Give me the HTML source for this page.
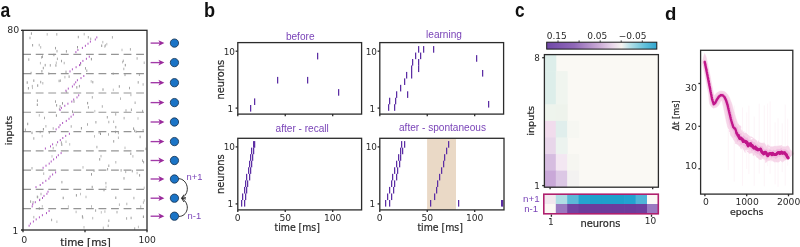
<!DOCTYPE html>
<html><head><meta charset="utf-8"><title>figure</title>
<style>html,body{margin:0;padding:0;background:#fff;} body{width:800px;height:247px;overflow:hidden;} svg{display:block;}</style>
</head><body>
<svg width="800" height="247" viewBox="0 0 800 247">
<rect width="800" height="247" fill="#ffffff"/>
<text x="0.60" y="17.10" font-size="19.5" font-family="'Liberation Sans', sans-serif" fill="#111" text-anchor="start" font-weight="bold" textLength="9.7" lengthAdjust="spacingAndGlyphs">a</text>
<text x="203.90" y="17.20" font-size="20" font-family="'Liberation Sans', sans-serif" fill="#111" text-anchor="start" font-weight="bold" textLength="11.1" lengthAdjust="spacingAndGlyphs">b</text>
<text x="515.10" y="17.20" font-size="20" font-family="'Liberation Sans', sans-serif" fill="#111" text-anchor="start" font-weight="bold" textLength="9.6" lengthAdjust="spacingAndGlyphs">c</text>
<text x="665.00" y="19.70" font-size="18.6" font-family="'Liberation Sans', sans-serif" fill="#111" text-anchor="start" font-weight="bold">d</text>
<rect x="63.7" y="61.8" width="1" height="2.5" fill="rgb(179,179,179)"/>
<rect x="33.3" y="137.2" width="1" height="2.5" fill="rgb(166,166,166)"/>
<rect x="31.5" y="131.6" width="1" height="2.5" fill="rgb(151,151,151)"/>
<rect x="77.0" y="46.0" width="1" height="2.5" fill="rgb(154,154,154)"/>
<rect x="75.9" y="194.1" width="1" height="2.5" fill="rgb(155,155,155)"/>
<rect x="51.5" y="155.1" width="1" height="2.5" fill="rgb(192,192,192)"/>
<rect x="94.3" y="109.9" width="1" height="2.5" fill="rgb(193,193,193)"/>
<rect x="30.1" y="200.3" width="1" height="2.5" fill="rgb(163,163,163)"/>
<rect x="42.0" y="55.4" width="1" height="2.5" fill="rgb(163,163,163)"/>
<rect x="123.3" y="67.7" width="1" height="2.5" fill="rgb(176,176,176)"/>
<rect x="101.8" y="105.2" width="1" height="2.5" fill="rgb(174,174,174)"/>
<rect x="32.1" y="44.0" width="1" height="2.5" fill="rgb(159,159,159)"/>
<rect x="106.8" y="116.0" width="1" height="2.5" fill="rgb(164,164,164)"/>
<rect x="95.4" y="121.0" width="1" height="2.5" fill="rgb(163,163,163)"/>
<rect x="120.6" y="169.1" width="1" height="2.5" fill="rgb(160,160,160)"/>
<rect x="94.0" y="135.1" width="1" height="2.5" fill="rgb(189,189,189)"/>
<rect x="112.8" y="88.6" width="1" height="2.5" fill="rgb(194,194,194)"/>
<rect x="38.8" y="114.1" width="1" height="2.5" fill="rgb(184,184,184)"/>
<rect x="42.9" y="128.0" width="1" height="2.5" fill="rgb(151,151,151)"/>
<rect x="105.4" y="181.9" width="1" height="2.5" fill="rgb(175,175,175)"/>
<rect x="130.4" y="93.7" width="1" height="2.5" fill="rgb(181,181,181)"/>
<rect x="96.4" y="145.8" width="1" height="2.5" fill="rgb(170,170,170)"/>
<rect x="126.1" y="217.2" width="1" height="2.5" fill="rgb(171,171,171)"/>
<rect x="104.9" y="44.2" width="1" height="2.5" fill="rgb(181,181,181)"/>
<rect x="102.8" y="226.6" width="1" height="2.5" fill="rgb(186,186,186)"/>
<rect x="58.9" y="107.8" width="1" height="2.5" fill="rgb(180,180,180)"/>
<rect x="27.2" y="122.7" width="1" height="2.5" fill="rgb(157,157,157)"/>
<rect x="38.7" y="43.8" width="1" height="2.5" fill="rgb(184,184,184)"/>
<rect x="40.2" y="80.8" width="1" height="2.5" fill="rgb(167,167,167)"/>
<rect x="129.9" y="48.1" width="1" height="2.5" fill="rgb(170,170,170)"/>
<rect x="91.0" y="205.2" width="1" height="2.5" fill="rgb(186,186,186)"/>
<rect x="129.0" y="86.8" width="1" height="2.5" fill="rgb(168,168,168)"/>
<rect x="67.9" y="205.3" width="1" height="2.5" fill="rgb(193,193,193)"/>
<rect x="42.8" y="66.8" width="1" height="2.5" fill="rgb(160,160,160)"/>
<rect x="52.7" y="127.2" width="1" height="2.5" fill="rgb(176,176,176)"/>
<rect x="56.3" y="33.1" width="1" height="2.5" fill="rgb(168,168,168)"/>
<rect x="69.2" y="143.1" width="1" height="2.5" fill="rgb(192,192,192)"/>
<rect x="108.0" y="133.2" width="1" height="2.5" fill="rgb(177,177,177)"/>
<rect x="106.3" y="42.9" width="1" height="2.5" fill="rgb(190,190,190)"/>
<rect x="118.9" y="203.4" width="1" height="2.5" fill="rgb(185,185,185)"/>
<rect x="72.0" y="110.4" width="1" height="2.5" fill="rgb(154,154,154)"/>
<rect x="101.2" y="44.5" width="1" height="2.5" fill="rgb(153,153,153)"/>
<rect x="49.8" y="64.1" width="1" height="2.5" fill="rgb(165,165,165)"/>
<rect x="30.9" y="32.3" width="1" height="2.5" fill="rgb(156,156,156)"/>
<rect x="36.8" y="103.5" width="1" height="2.5" fill="rgb(151,151,151)"/>
<rect x="130.3" y="152.5" width="1" height="2.5" fill="rgb(156,156,156)"/>
<rect x="55.0" y="100.3" width="1" height="2.5" fill="rgb(166,166,166)"/>
<rect x="39.4" y="198.4" width="1" height="2.5" fill="rgb(194,194,194)"/>
<rect x="80.9" y="127.0" width="1" height="2.5" fill="rgb(153,153,153)"/>
<rect x="36.9" y="99.4" width="1" height="2.5" fill="rgb(161,161,161)"/>
<rect x="124.8" y="63.9" width="1" height="2.5" fill="rgb(151,151,151)"/>
<rect x="139.6" y="135.7" width="1" height="2.5" fill="rgb(156,156,156)"/>
<rect x="90.2" y="37.6" width="1" height="2.5" fill="rgb(173,173,173)"/>
<rect x="142.9" y="201.3" width="1" height="2.5" fill="rgb(181,181,181)"/>
<rect x="56.1" y="104.1" width="1" height="2.5" fill="rgb(157,157,157)"/>
<rect x="117.9" y="136.5" width="1" height="2.5" fill="rgb(185,185,185)"/>
<rect x="64.4" y="75.9" width="1" height="2.5" fill="rgb(186,186,186)"/>
<rect x="143.7" y="199.2" width="1" height="2.5" fill="rgb(186,186,186)"/>
<rect x="123.5" y="177.1" width="1" height="2.5" fill="rgb(160,160,160)"/>
<rect x="87.1" y="101.9" width="1" height="2.5" fill="rgb(151,151,151)"/>
<rect x="27.9" y="87.0" width="1" height="2.5" fill="rgb(161,161,161)"/>
<rect x="108.3" y="219.5" width="1" height="2.5" fill="rgb(170,170,170)"/>
<rect x="137.9" y="225.7" width="1" height="2.5" fill="rgb(192,192,192)"/>
<rect x="68.6" y="75.4" width="1" height="2.5" fill="rgb(160,160,160)"/>
<rect x="48.3" y="72.3" width="1" height="2.5" fill="rgb(178,178,178)"/>
<rect x="133.4" y="196.8" width="1" height="2.5" fill="rgb(171,171,171)"/>
<rect x="103.5" y="188.8" width="1" height="2.5" fill="rgb(153,153,153)"/>
<rect x="104.4" y="210.3" width="1" height="2.5" fill="rgb(185,185,185)"/>
<rect x="115.3" y="125.9" width="1" height="2.5" fill="rgb(158,158,158)"/>
<rect x="120.0" y="97.4" width="1" height="2.5" fill="rgb(186,186,186)"/>
<rect x="142.1" y="109.8" width="1" height="2.5" fill="rgb(168,168,168)"/>
<rect x="139.1" y="174.1" width="1" height="2.5" fill="rgb(157,157,157)"/>
<rect x="39.9" y="61.9" width="1" height="2.5" fill="rgb(190,190,190)"/>
<rect x="122.1" y="60.9" width="1" height="2.5" fill="rgb(187,187,187)"/>
<rect x="143.1" y="160.9" width="1" height="2.5" fill="rgb(165,165,165)"/>
<rect x="90.9" y="57.9" width="1" height="2.5" fill="rgb(150,150,150)"/>
<rect x="142.0" y="159.4" width="1" height="2.5" fill="rgb(173,173,173)"/>
<rect x="137.5" y="117.2" width="1" height="2.5" fill="rgb(189,189,189)"/>
<rect x="124.5" y="73.6" width="1" height="2.5" fill="rgb(161,161,161)"/>
<rect x="59.9" y="79.4" width="1" height="2.5" fill="rgb(176,176,176)"/>
<rect x="55.9" y="114.3" width="1" height="2.5" fill="rgb(155,155,155)"/>
<rect x="134.6" y="101.5" width="1" height="2.5" fill="rgb(170,170,170)"/>
<rect x="95.1" y="209.3" width="1" height="2.5" fill="rgb(168,168,168)"/>
<rect x="135.5" y="130.5" width="1" height="2.5" fill="rgb(173,173,173)"/>
<rect x="87.8" y="36.0" width="1" height="2.5" fill="rgb(169,169,169)"/>
<rect x="46.7" y="33.1" width="1" height="2.5" fill="rgb(185,185,185)"/>
<rect x="45.4" y="125.0" width="1" height="2.5" fill="rgb(182,182,182)"/>
<rect x="91.8" y="96.1" width="1" height="2.5" fill="rgb(173,173,173)"/>
<rect x="91.7" y="185.8" width="1" height="2.5" fill="rgb(154,154,154)"/>
<rect x="92.3" y="80.9" width="1" height="2.5" fill="rgb(162,162,162)"/>
<rect x="117.9" y="131.7" width="1" height="2.5" fill="rgb(175,175,175)"/>
<rect x="116.5" y="210.9" width="1" height="2.5" fill="rgb(169,169,169)"/>
<rect x="98.6" y="131.2" width="1" height="2.5" fill="rgb(173,173,173)"/>
<rect x="108.3" y="120.8" width="1" height="2.5" fill="rgb(173,173,173)"/>
<rect x="82.3" y="216.6" width="1" height="2.5" fill="rgb(181,181,181)"/>
<rect x="130.6" y="216.7" width="1" height="2.5" fill="rgb(161,161,161)"/>
<rect x="92.2" y="216.9" width="1" height="2.5" fill="rgb(187,187,187)"/>
<rect x="41.1" y="56.1" width="1" height="2.5" fill="rgb(169,169,169)"/>
<rect x="33.3" y="79.4" width="1" height="2.5" fill="rgb(153,153,153)"/>
<rect x="105.5" y="185.7" width="1" height="2.5" fill="rgb(190,190,190)"/>
<rect x="43.2" y="172.4" width="1" height="2.5" fill="rgb(179,179,179)"/>
<rect x="41.8" y="205.1" width="1" height="2.5" fill="rgb(193,193,193)"/>
<rect x="51.1" y="218.7" width="1" height="2.5" fill="rgb(167,167,167)"/>
<rect x="83.5" y="226.0" width="1" height="2.5" fill="rgb(187,187,187)"/>
<rect x="44.0" y="116.7" width="1" height="2.5" fill="rgb(173,173,173)"/>
<rect x="65.5" y="70.6" width="1" height="2.5" fill="rgb(164,164,164)"/>
<rect x="111.9" y="36.1" width="1" height="2.5" fill="rgb(174,174,174)"/>
<rect x="77.8" y="35.8" width="1" height="2.5" fill="rgb(164,164,164)"/>
<rect x="100.0" y="132.5" width="1" height="2.5" fill="rgb(152,152,152)"/>
<rect x="143.7" y="186.6" width="1" height="2.5" fill="rgb(193,193,193)"/>
<rect x="37.2" y="84.3" width="1" height="2.5" fill="rgb(151,151,151)"/>
<rect x="118.8" y="85.2" width="1" height="2.5" fill="rgb(155,155,155)"/>
<rect x="75.6" y="210.7" width="1" height="2.5" fill="rgb(186,186,186)"/>
<rect x="55.8" y="61.5" width="1" height="2.5" fill="rgb(191,191,191)"/>
<rect x="93.5" y="169.4" width="1" height="2.5" fill="rgb(154,154,154)"/>
<rect x="31.5" y="167.0" width="1" height="2.5" fill="rgb(169,169,169)"/>
<rect x="33.3" y="215.9" width="1" height="2.5" fill="rgb(178,178,178)"/>
<rect x="121.5" y="48.7" width="1" height="2.5" fill="rgb(188,188,188)"/>
<rect x="32.6" y="201.1" width="1" height="2.5" fill="rgb(170,170,170)"/>
<rect x="65.5" y="140.5" width="1" height="2.5" fill="rgb(191,191,191)"/>
<rect x="56.9" y="57.6" width="1" height="2.5" fill="rgb(173,173,173)"/>
<rect x="53.4" y="53.7" width="1" height="2.5" fill="rgb(157,157,157)"/>
<rect x="30.6" y="71.8" width="1" height="2.5" fill="rgb(164,164,164)"/>
<rect x="61.4" y="180.9" width="1" height="2.5" fill="rgb(163,163,163)"/>
<rect x="85.0" y="67.1" width="1" height="2.5" fill="rgb(165,165,165)"/>
<rect x="26.7" y="81.3" width="1" height="2.5" fill="rgb(150,150,150)"/>
<rect x="113.2" y="140.1" width="1" height="2.5" fill="rgb(158,158,158)"/>
<rect x="81.9" y="215.2" width="1" height="2.5" fill="rgb(154,154,154)"/>
<rect x="123.6" y="116.9" width="1" height="2.5" fill="rgb(172,172,172)"/>
<rect x="125.5" y="109.2" width="1" height="2.5" fill="rgb(172,172,172)"/>
<rect x="107.7" y="224.6" width="1" height="2.5" fill="rgb(165,165,165)"/>
<rect x="125.2" y="170.6" width="1" height="2.5" fill="rgb(178,178,178)"/>
<rect x="73.5" y="100.3" width="1" height="2.5" fill="rgb(152,152,152)"/>
<rect x="40.2" y="46.1" width="1" height="2.5" fill="rgb(183,183,183)"/>
<rect x="55.4" y="64.2" width="1" height="2.5" fill="rgb(153,153,153)"/>
<rect x="126.3" y="202.7" width="1" height="2.5" fill="rgb(180,180,180)"/>
<rect x="58.6" y="79.7" width="1" height="2.5" fill="rgb(163,163,163)"/>
<rect x="80.1" y="63.1" width="1" height="2.5" fill="rgb(170,170,170)"/>
<rect x="56.4" y="220.5" width="1" height="2.5" fill="rgb(193,193,193)"/>
<rect x="90.7" y="80.1" width="1" height="2.5" fill="rgb(193,193,193)"/>
<rect x="62.0" y="102.1" width="1" height="2.5" fill="rgb(150,150,150)"/>
<rect x="70.7" y="125.2" width="1" height="2.5" fill="rgb(172,172,172)"/>
<rect x="48.8" y="131.1" width="1" height="2.5" fill="rgb(150,150,150)"/>
<rect x="56.5" y="49.9" width="1" height="2.5" fill="rgb(167,167,167)"/>
<rect x="29.5" y="36.7" width="1" height="2.5" fill="rgb(163,163,163)"/>
<rect x="52.7" y="146.9" width="1" height="2.5" fill="rgb(173,173,173)"/>
<rect x="115.3" y="161.0" width="1" height="2.5" fill="rgb(182,182,182)"/>
<rect x="130.9" y="108.5" width="1" height="2.5" fill="rgb(164,164,164)"/>
<rect x="143.7" y="61.5" width="1" height="2.5" fill="rgb(182,182,182)"/>
<rect x="102.3" y="40.9" width="1" height="2.5" fill="rgb(187,187,187)"/>
<rect x="132.4" y="155.1" width="1" height="2.5" fill="rgb(183,183,183)"/>
<rect x="122.8" y="59.6" width="1" height="2.5" fill="rgb(173,173,173)"/>
<rect x="85.5" y="195.7" width="1" height="2.5" fill="rgb(186,186,186)"/>
<rect x="124.5" y="146.6" width="1" height="2.5" fill="rgb(190,190,190)"/>
<rect x="107.1" y="168.0" width="1" height="2.5" fill="rgb(160,160,160)"/>
<rect x="28.3" y="58.3" width="1" height="2.5" fill="rgb(166,166,166)"/>
<rect x="37.2" y="195.9" width="1" height="2.5" fill="rgb(175,175,175)"/>
<rect x="100.5" y="154.9" width="1" height="2.5" fill="rgb(180,180,180)"/>
<rect x="83.7" y="32.9" width="1" height="2.5" fill="rgb(185,185,185)"/>
<rect x="115.0" y="130.7" width="1" height="2.5" fill="rgb(174,174,174)"/>
<rect x="104.3" y="45.2" width="1" height="2.5" fill="rgb(183,183,183)"/>
<rect x="55.0" y="46.9" width="1" height="2.5" fill="rgb(161,161,161)"/>
<rect x="112.7" y="72.5" width="1" height="2.5" fill="rgb(183,183,183)"/>
<rect x="142.6" y="129.0" width="1" height="2.5" fill="rgb(167,167,167)"/>
<rect x="82.5" y="166.1" width="1" height="2.5" fill="rgb(184,184,184)"/>
<rect x="99.2" y="158.1" width="1" height="2.5" fill="rgb(153,153,153)"/>
<rect x="42.3" y="82.0" width="1" height="2.5" fill="rgb(183,183,183)"/>
<rect x="61.3" y="143.4" width="1" height="2.5" fill="rgb(150,150,150)"/>
<rect x="31.8" y="84.9" width="1" height="2.5" fill="rgb(180,180,180)"/>
<rect x="108.3" y="164.5" width="1" height="2.5" fill="rgb(163,163,163)"/>
<rect x="87.0" y="123.2" width="1" height="2.5" fill="rgb(170,170,170)"/>
<rect x="38.8" y="207.2" width="1" height="2.5" fill="rgb(158,158,158)"/>
<rect x="142.9" y="215.5" width="1" height="2.5" fill="rgb(150,150,150)"/>
<rect x="80.0" y="192.8" width="1" height="2.5" fill="rgb(193,193,193)"/>
<rect x="78.9" y="84.9" width="1" height="2.5" fill="rgb(159,159,159)"/>
<rect x="138.9" y="73.5" width="1" height="2.5" fill="rgb(176,176,176)"/>
<rect x="41.7" y="134.9" width="1" height="2.5" fill="rgb(192,192,192)"/>
<rect x="40.5" y="192.8" width="1" height="2.5" fill="rgb(172,172,172)"/>
<rect x="131.8" y="169.9" width="1" height="2.5" fill="rgb(160,160,160)"/>
<rect x="133.1" y="127.4" width="1" height="2.5" fill="rgb(151,151,151)"/>
<rect x="24.9" y="128.5" width="1" height="2.5" fill="rgb(170,170,170)"/>
<rect x="61.0" y="59.8" width="1" height="2.5" fill="rgb(165,165,165)"/>
<rect x="62.7" y="196.7" width="1" height="2.5" fill="rgb(150,150,150)"/>
<rect x="115.3" y="196.5" width="1" height="2.5" fill="rgb(155,155,155)"/>
<rect x="136.6" y="171.8" width="1" height="2.5" fill="rgb(190,190,190)"/>
<rect x="59.6" y="105.1" width="1" height="2.5" fill="rgb(167,167,167)"/>
<rect x="145.4" y="147.6" width="1" height="2.5" fill="rgb(166,166,166)"/>
<rect x="76.3" y="86.1" width="1" height="2.5" fill="rgb(152,152,152)"/>
<rect x="36.8" y="195.6" width="1" height="2.5" fill="rgb(162,162,162)"/>
<rect x="137.7" y="81.1" width="1" height="2.5" fill="rgb(161,161,161)"/>
<rect x="86.3" y="69.5" width="1" height="2.5" fill="rgb(166,166,166)"/>
<rect x="140.2" y="205.4" width="1" height="2.5" fill="rgb(186,186,186)"/>
<rect x="100.8" y="211.1" width="1" height="2.5" fill="rgb(192,192,192)"/>
<rect x="91.0" y="173.1" width="1" height="2.5" fill="rgb(152,152,152)"/>
<rect x="113.1" y="120.5" width="1" height="2.5" fill="rgb(183,183,183)"/>
<rect x="102.5" y="88.3" width="1" height="2.5" fill="rgb(152,152,152)"/>
<rect x="136.6" y="57.2" width="1" height="2.5" fill="rgb(171,171,171)"/>
<rect x="66.1" y="90.6" width="1" height="2.5" fill="rgb(183,183,183)"/>
<rect x="142.6" y="83.2" width="1" height="2.5" fill="rgb(179,179,179)"/>
<rect x="60.9" y="141.4" width="1" height="2.5" fill="rgb(167,167,167)"/>
<rect x="44.7" y="63.9" width="1" height="2.5" fill="rgb(159,159,159)"/>
<rect x="134.1" y="129.6" width="1" height="2.5" fill="rgb(159,159,159)"/>
<rect x="134.2" y="227.3" width="1" height="2.5" fill="rgb(170,170,170)"/>
<rect x="41.4" y="70.0" width="1" height="2.5" fill="rgb(154,154,154)"/>
<rect x="65.9" y="50.1" width="1" height="2.5" fill="rgb(160,160,160)"/>
<rect x="55.8" y="143.8" width="1" height="2.5" fill="rgb(189,189,189)"/>
<rect x="115.2" y="113.1" width="1" height="2.5" fill="rgb(168,168,168)"/>
<rect x="87.9" y="106.1" width="1" height="2.5" fill="rgb(165,165,165)"/>
<rect x="32.0" y="86.6" width="1" height="2.5" fill="rgb(193,193,193)"/>
<rect x="39.7" y="130.8" width="1" height="2.5" fill="rgb(178,178,178)"/>
<line x1="23.20" y1="54.40" x2="146.40" y2="54.40" stroke="#959595" stroke-width="1.2" stroke-dasharray="7.8 4.75"/>
<line x1="23.20" y1="73.69" x2="146.40" y2="73.69" stroke="#959595" stroke-width="1.2" stroke-dasharray="7.8 4.75"/>
<line x1="23.20" y1="92.98" x2="146.40" y2="92.98" stroke="#959595" stroke-width="1.2" stroke-dasharray="7.8 4.75"/>
<line x1="23.20" y1="112.27" x2="146.40" y2="112.27" stroke="#959595" stroke-width="1.2" stroke-dasharray="7.8 4.75"/>
<line x1="23.20" y1="131.56" x2="146.40" y2="131.56" stroke="#959595" stroke-width="1.2" stroke-dasharray="7.8 4.75"/>
<line x1="23.20" y1="150.85" x2="146.40" y2="150.85" stroke="#959595" stroke-width="1.2" stroke-dasharray="7.8 4.75"/>
<line x1="23.20" y1="170.14" x2="146.40" y2="170.14" stroke="#959595" stroke-width="1.2" stroke-dasharray="7.8 4.75"/>
<line x1="23.20" y1="189.43" x2="146.40" y2="189.43" stroke="#959595" stroke-width="1.2" stroke-dasharray="7.8 4.75"/>
<line x1="23.20" y1="208.72" x2="146.40" y2="208.72" stroke="#959595" stroke-width="1.2" stroke-dasharray="7.8 4.75"/>
<rect x="28.6" y="224.7" width="1.0" height="2.0" fill="#b058c2"/>
<rect x="29.9" y="222.6" width="1.0" height="2.0" fill="#b058c2"/>
<rect x="32.9" y="220.5" width="1.0" height="2.0" fill="#b058c2"/>
<rect x="35.7" y="218.4" width="1.0" height="2.0" fill="#b058c2"/>
<rect x="38.9" y="216.3" width="1.0" height="2.0" fill="#b058c2"/>
<rect x="41.9" y="214.2" width="1.0" height="2.0" fill="#b058c2"/>
<rect x="46.0" y="212.1" width="1.0" height="2.0" fill="#b058c2"/>
<rect x="48.6" y="210.0" width="1.0" height="2.0" fill="#b058c2"/>
<rect x="31.7" y="205.4" width="1.0" height="2.0" fill="#b058c2"/>
<rect x="32.2" y="203.3" width="1.0" height="2.0" fill="#b058c2"/>
<rect x="34.8" y="201.2" width="1.0" height="2.0" fill="#b058c2"/>
<rect x="39.0" y="199.1" width="1.0" height="2.0" fill="#b058c2"/>
<rect x="42.0" y="197.0" width="1.0" height="2.0" fill="#b058c2"/>
<rect x="43.5" y="194.9" width="1.0" height="2.0" fill="#b058c2"/>
<rect x="46.4" y="192.8" width="1.0" height="2.0" fill="#b058c2"/>
<rect x="47.5" y="190.7" width="1.0" height="2.0" fill="#b058c2"/>
<rect x="35.5" y="186.1" width="1.0" height="2.0" fill="#b058c2"/>
<rect x="39.7" y="184.0" width="1.0" height="2.0" fill="#b058c2"/>
<rect x="42.3" y="181.9" width="1.0" height="2.0" fill="#b058c2"/>
<rect x="45.3" y="179.8" width="1.0" height="2.0" fill="#b058c2"/>
<rect x="48.4" y="177.7" width="1.0" height="2.0" fill="#b058c2"/>
<rect x="49.6" y="175.6" width="1.0" height="2.0" fill="#b058c2"/>
<rect x="52.1" y="173.5" width="1.0" height="2.0" fill="#b058c2"/>
<rect x="55.1" y="171.4" width="1.0" height="2.0" fill="#b058c2"/>
<rect x="42.6" y="166.8" width="1.0" height="2.0" fill="#b058c2"/>
<rect x="45.5" y="164.7" width="1.0" height="2.0" fill="#b058c2"/>
<rect x="48.7" y="162.6" width="1.0" height="2.0" fill="#b058c2"/>
<rect x="50.7" y="160.5" width="1.0" height="2.0" fill="#b058c2"/>
<rect x="53.1" y="158.4" width="1.0" height="2.0" fill="#b058c2"/>
<rect x="56.0" y="156.3" width="1.0" height="2.0" fill="#b058c2"/>
<rect x="57.8" y="154.2" width="1.0" height="2.0" fill="#b058c2"/>
<rect x="60.6" y="152.1" width="1.0" height="2.0" fill="#b058c2"/>
<rect x="44.9" y="147.5" width="1.0" height="2.0" fill="#b058c2"/>
<rect x="50.0" y="145.4" width="1.0" height="2.0" fill="#b058c2"/>
<rect x="52.1" y="143.3" width="1.0" height="2.0" fill="#b058c2"/>
<rect x="57.1" y="141.2" width="1.0" height="2.0" fill="#b058c2"/>
<rect x="59.8" y="139.1" width="1.0" height="2.0" fill="#b058c2"/>
<rect x="62.3" y="137.0" width="1.0" height="2.0" fill="#b058c2"/>
<rect x="65.2" y="134.9" width="1.0" height="2.0" fill="#b058c2"/>
<rect x="68.9" y="132.8" width="1.0" height="2.0" fill="#b058c2"/>
<rect x="55.6" y="128.3" width="1.0" height="2.0" fill="#b058c2"/>
<rect x="58.4" y="126.2" width="1.0" height="2.0" fill="#b058c2"/>
<rect x="59.6" y="124.1" width="1.0" height="2.0" fill="#b058c2"/>
<rect x="62.1" y="122.0" width="1.0" height="2.0" fill="#b058c2"/>
<rect x="65.8" y="119.9" width="1.0" height="2.0" fill="#b058c2"/>
<rect x="68.5" y="117.8" width="1.0" height="2.0" fill="#b058c2"/>
<rect x="70.6" y="115.7" width="1.0" height="2.0" fill="#b058c2"/>
<rect x="72.8" y="113.6" width="1.0" height="2.0" fill="#b058c2"/>
<rect x="59.6" y="109.0" width="1.0" height="2.0" fill="#b058c2"/>
<rect x="60.9" y="106.9" width="1.0" height="2.0" fill="#b058c2"/>
<rect x="64.3" y="104.8" width="1.0" height="2.0" fill="#b058c2"/>
<rect x="67.4" y="102.7" width="1.0" height="2.0" fill="#b058c2"/>
<rect x="71.3" y="100.6" width="1.0" height="2.0" fill="#b058c2"/>
<rect x="73.2" y="98.5" width="1.0" height="2.0" fill="#b058c2"/>
<rect x="76.5" y="96.4" width="1.0" height="2.0" fill="#b058c2"/>
<rect x="78.2" y="94.3" width="1.0" height="2.0" fill="#b058c2"/>
<rect x="65.4" y="89.7" width="1.0" height="2.0" fill="#b058c2"/>
<rect x="67.8" y="87.6" width="1.0" height="2.0" fill="#b058c2"/>
<rect x="71.9" y="85.5" width="1.0" height="2.0" fill="#b058c2"/>
<rect x="73.7" y="83.4" width="1.0" height="2.0" fill="#b058c2"/>
<rect x="75.2" y="81.3" width="1.0" height="2.0" fill="#b058c2"/>
<rect x="76.9" y="79.2" width="1.0" height="2.0" fill="#b058c2"/>
<rect x="80.5" y="77.1" width="1.0" height="2.0" fill="#b058c2"/>
<rect x="83.3" y="75.0" width="1.0" height="2.0" fill="#b058c2"/>
<rect x="69.5" y="70.4" width="1.0" height="2.0" fill="#b058c2"/>
<rect x="71.9" y="68.3" width="1.0" height="2.0" fill="#b058c2"/>
<rect x="75.6" y="66.2" width="1.0" height="2.0" fill="#b058c2"/>
<rect x="79.0" y="64.1" width="1.0" height="2.0" fill="#b058c2"/>
<rect x="80.1" y="62.0" width="1.0" height="2.0" fill="#b058c2"/>
<rect x="82.4" y="59.9" width="1.0" height="2.0" fill="#b058c2"/>
<rect x="85.9" y="57.8" width="1.0" height="2.0" fill="#b058c2"/>
<rect x="88.8" y="55.7" width="1.0" height="2.0" fill="#b058c2"/>
<rect x="75.4" y="51.1" width="1.0" height="2.0" fill="#b058c2"/>
<rect x="77.4" y="49.0" width="1.0" height="2.0" fill="#b058c2"/>
<rect x="81.9" y="46.9" width="1.0" height="2.0" fill="#b058c2"/>
<rect x="84.9" y="44.8" width="1.0" height="2.0" fill="#b058c2"/>
<rect x="87.5" y="42.7" width="1.0" height="2.0" fill="#b058c2"/>
<rect x="89.9" y="40.6" width="1.0" height="2.0" fill="#b058c2"/>
<rect x="94.8" y="38.5" width="1.0" height="2.0" fill="#b058c2"/>
<rect x="96.3" y="36.4" width="1.0" height="2.0" fill="#b058c2"/>
<rect x="23.00" y="30.30" width="124.00" height="199.70" fill="none" stroke="#2b2b2b" stroke-width="1.3"/>
<line x1="21.00" y1="30.30" x2="23.00" y2="30.30" stroke="#2b2b2b" stroke-width="1.3"/>
<line x1="21.00" y1="230.00" x2="23.00" y2="230.00" stroke="#2b2b2b" stroke-width="1.3"/>
<line x1="23.00" y1="230.00" x2="23.00" y2="232.20" stroke="#2b2b2b" stroke-width="1.3"/>
<line x1="85.00" y1="230.00" x2="85.00" y2="232.20" stroke="#2b2b2b" stroke-width="1.3"/>
<line x1="147.00" y1="230.00" x2="147.00" y2="232.20" stroke="#2b2b2b" stroke-width="1.3"/>
<text x="19.30" y="33.30" font-size="9.4" font-family="'DejaVu Sans', sans-serif" fill="#2a2a2a" text-anchor="end" font-weight="normal">80</text>
<text x="18.20" y="234.00" font-size="9" font-family="'DejaVu Sans', sans-serif" fill="#2a2a2a" text-anchor="end" font-weight="normal">1</text>
<text x="24.20" y="243.40" font-size="9.4" font-family="'DejaVu Sans', sans-serif" fill="#2a2a2a" text-anchor="middle" font-weight="normal">0</text>
<text x="147.20" y="243.00" font-size="9.2" font-family="'DejaVu Sans', sans-serif" fill="#2a2a2a" text-anchor="middle" font-weight="normal">100</text>
<text x="85.50" y="246.20" font-size="10" font-family="'DejaVu Sans', sans-serif" fill="#2a2a2a" text-anchor="middle" font-weight="normal" stroke="#2a2a2a" stroke-width="0.22" textLength="50.5" lengthAdjust="spacingAndGlyphs">time [ms]</text>
<text x="11.70" y="130.50" font-size="8.5" font-family="'DejaVu Sans', sans-serif" fill="#2a2a2a" text-anchor="middle" font-weight="normal" transform="rotate(-90 11.7 130.5)" stroke="#2a2a2a" stroke-width="0.22" textLength="29.4" lengthAdjust="spacingAndGlyphs">inputs</text>
<line x1="150.60" y1="43.10" x2="160.00" y2="43.10" stroke="#a23aa8" stroke-width="1.35"/>
<path d="M164.4 43.10 L158.4 40.20 L159.9 43.10 L158.4 46.00 Z" fill="#9a2a9c"/>
<circle cx="174.45" cy="43.10" r="4.15" fill="#1b74c6" stroke="#15304c" stroke-width="0.8"/>
<line x1="150.60" y1="62.60" x2="160.00" y2="62.60" stroke="#a23aa8" stroke-width="1.35"/>
<path d="M164.4 62.60 L158.4 59.70 L159.9 62.60 L158.4 65.50 Z" fill="#9a2a9c"/>
<circle cx="174.45" cy="62.60" r="4.15" fill="#1b74c6" stroke="#15304c" stroke-width="0.8"/>
<line x1="150.60" y1="82.70" x2="160.00" y2="82.70" stroke="#a23aa8" stroke-width="1.35"/>
<path d="M164.4 82.70 L158.4 79.80 L159.9 82.70 L158.4 85.60 Z" fill="#9a2a9c"/>
<circle cx="174.45" cy="82.70" r="4.15" fill="#1b74c6" stroke="#15304c" stroke-width="0.8"/>
<line x1="150.60" y1="102.60" x2="160.00" y2="102.60" stroke="#a23aa8" stroke-width="1.35"/>
<path d="M164.4 102.60 L158.4 99.70 L159.9 102.60 L158.4 105.50 Z" fill="#9a2a9c"/>
<circle cx="174.45" cy="102.60" r="4.15" fill="#1b74c6" stroke="#15304c" stroke-width="0.8"/>
<line x1="150.60" y1="122.00" x2="160.00" y2="122.00" stroke="#a23aa8" stroke-width="1.35"/>
<path d="M164.4 122.00 L158.4 119.10 L159.9 122.00 L158.4 124.90 Z" fill="#9a2a9c"/>
<circle cx="174.45" cy="122.00" r="4.15" fill="#1b74c6" stroke="#15304c" stroke-width="0.8"/>
<line x1="150.60" y1="141.60" x2="160.00" y2="141.60" stroke="#a23aa8" stroke-width="1.35"/>
<path d="M164.4 141.60 L158.4 138.70 L159.9 141.60 L158.4 144.50 Z" fill="#9a2a9c"/>
<circle cx="174.45" cy="141.60" r="4.15" fill="#1b74c6" stroke="#15304c" stroke-width="0.8"/>
<line x1="150.60" y1="160.50" x2="160.00" y2="160.50" stroke="#a23aa8" stroke-width="1.35"/>
<path d="M164.4 160.50 L158.4 157.60 L159.9 160.50 L158.4 163.40 Z" fill="#9a2a9c"/>
<circle cx="174.45" cy="160.50" r="4.15" fill="#1b74c6" stroke="#15304c" stroke-width="0.8"/>
<line x1="150.60" y1="179.00" x2="160.00" y2="179.00" stroke="#a23aa8" stroke-width="1.35"/>
<path d="M164.4 179.00 L158.4 176.10 L159.9 179.00 L158.4 181.90 Z" fill="#9a2a9c"/>
<circle cx="174.45" cy="179.00" r="4.15" fill="#1b74c6" stroke="#15304c" stroke-width="0.8"/>
<line x1="150.60" y1="198.20" x2="160.00" y2="198.20" stroke="#a23aa8" stroke-width="1.35"/>
<path d="M164.4 198.20 L158.4 195.30 L159.9 198.20 L158.4 201.10 Z" fill="#9a2a9c"/>
<circle cx="174.45" cy="198.20" r="4.15" fill="#1b74c6" stroke="#15304c" stroke-width="0.8"/>
<line x1="150.60" y1="216.20" x2="160.00" y2="216.20" stroke="#a23aa8" stroke-width="1.35"/>
<path d="M164.4 216.20 L158.4 213.30 L159.9 216.20 L158.4 219.10 Z" fill="#9a2a9c"/>
<circle cx="174.45" cy="216.20" r="4.15" fill="#1b74c6" stroke="#15304c" stroke-width="0.8"/>
<path d="M178.9 178.7 C 187 179, 191.5 192, 181.9 198.1" fill="none" stroke="#262626" stroke-width="0.95"/>
<path d="M178.9 216.4 C 187 216.6, 191.5 204.6, 181.9 198.5" fill="none" stroke="#262626" stroke-width="0.95"/>
<path d="M185.9 197.6 L181.6 198.2 L184.0 194.6" fill="none" stroke="#262626" stroke-width="0.95"/>
<path d="M185.9 199.0 L181.6 198.4 L184.0 202.0" fill="none" stroke="#262626" stroke-width="0.95"/>
<text x="186.60" y="179.70" font-size="9.4" font-family="'Liberation Sans', sans-serif" fill="#7a44b8" text-anchor="start" font-weight="normal">n+1</text>
<text x="187.60" y="218.90" font-size="9.4" font-family="'Liberation Sans', sans-serif" fill="#7a44b8" text-anchor="start" font-weight="normal">n-1</text>
<rect x="250.00" y="105.00" width="1.25" height="6.60" fill="#5c2ea4"/>
<rect x="254.00" y="98.40" width="1.25" height="6.60" fill="#5c2ea4"/>
<rect x="277.00" y="76.90" width="1.25" height="6.60" fill="#5c2ea4"/>
<rect x="307.00" y="76.90" width="1.25" height="6.60" fill="#5c2ea4"/>
<rect x="317.00" y="52.80" width="1.25" height="6.60" fill="#5c2ea4"/>
<rect x="338.00" y="89.10" width="1.25" height="6.60" fill="#5c2ea4"/>
<rect x="237.80" y="42.60" width="123.80" height="71.50" fill="none" stroke="#2b2b2b" stroke-width="1.3"/>
<line x1="235.60" y1="51.20" x2="237.80" y2="51.20" stroke="#2b2b2b" stroke-width="1.3"/>
<line x1="235.60" y1="108.10" x2="237.80" y2="108.10" stroke="#2b2b2b" stroke-width="1.3"/>
<text x="235.00" y="54.90" font-size="8.9" font-family="'DejaVu Sans', sans-serif" fill="#2a2a2a" text-anchor="end" font-weight="normal">10</text>
<text x="233.20" y="111.80" font-size="8.9" font-family="'DejaVu Sans', sans-serif" fill="#2a2a2a" text-anchor="end" font-weight="normal">1</text>
<line x1="237.80" y1="114.10" x2="237.80" y2="116.30" stroke="#2b2b2b" stroke-width="1.3"/>
<line x1="285.25" y1="114.10" x2="285.25" y2="116.30" stroke="#2b2b2b" stroke-width="1.3"/>
<line x1="332.70" y1="114.10" x2="332.70" y2="116.30" stroke="#2b2b2b" stroke-width="1.3"/>
<text x="300.20" y="39.75" font-size="10.1" font-family="'Liberation Sans', sans-serif" fill="#7a44b8" text-anchor="middle" font-weight="normal">before</text>
<text x="224.20" y="79.75" font-size="10.4" font-family="'DejaVu Sans', sans-serif" fill="#2a2a2a" text-anchor="middle" font-weight="normal" transform="rotate(-90 224.2 79.75)" stroke="#2a2a2a" stroke-width="0.22" textLength="39.6" lengthAdjust="spacingAndGlyphs">neurons</text>
<rect x="388.00" y="104.20" width="1.25" height="6.60" fill="#5c2ea4"/>
<rect x="389.00" y="97.74" width="1.25" height="6.60" fill="#5c2ea4"/>
<rect x="394.00" y="104.20" width="1.25" height="6.60" fill="#5c2ea4"/>
<rect x="395.00" y="97.74" width="1.25" height="6.60" fill="#5c2ea4"/>
<rect x="396.00" y="91.29" width="1.25" height="6.60" fill="#5c2ea4"/>
<rect x="400.00" y="84.83" width="1.25" height="6.60" fill="#5c2ea4"/>
<rect x="404.00" y="78.38" width="1.25" height="6.60" fill="#5c2ea4"/>
<rect x="406.00" y="71.92" width="1.25" height="6.60" fill="#5c2ea4"/>
<rect x="407.00" y="91.29" width="1.25" height="6.60" fill="#5c2ea4"/>
<rect x="411.00" y="65.47" width="1.25" height="6.60" fill="#5c2ea4"/>
<rect x="411.00" y="71.92" width="1.25" height="6.60" fill="#5c2ea4"/>
<rect x="412.00" y="59.01" width="1.25" height="6.60" fill="#5c2ea4"/>
<rect x="415.00" y="52.56" width="1.25" height="6.60" fill="#5c2ea4"/>
<rect x="418.00" y="65.47" width="1.25" height="6.60" fill="#5c2ea4"/>
<rect x="418.00" y="59.01" width="1.25" height="6.60" fill="#5c2ea4"/>
<rect x="418.00" y="46.10" width="1.25" height="6.60" fill="#5c2ea4"/>
<rect x="420.00" y="52.56" width="1.25" height="6.60" fill="#5c2ea4"/>
<rect x="423.00" y="46.10" width="1.25" height="6.60" fill="#5c2ea4"/>
<rect x="433.00" y="46.10" width="1.25" height="6.60" fill="#5c2ea4"/>
<rect x="476.00" y="55.14" width="1.25" height="6.60" fill="#5c2ea4"/>
<rect x="482.00" y="69.99" width="1.25" height="6.60" fill="#5c2ea4"/>
<rect x="488.00" y="100.97" width="1.25" height="6.60" fill="#5c2ea4"/>
<rect x="379.80" y="42.60" width="123.80" height="71.50" fill="none" stroke="#2b2b2b" stroke-width="1.3"/>
<line x1="377.60" y1="51.20" x2="379.80" y2="51.20" stroke="#2b2b2b" stroke-width="1.3"/>
<line x1="377.60" y1="108.10" x2="379.80" y2="108.10" stroke="#2b2b2b" stroke-width="1.3"/>
<text x="377.00" y="54.90" font-size="8.9" font-family="'DejaVu Sans', sans-serif" fill="#2a2a2a" text-anchor="end" font-weight="normal">10</text>
<text x="375.20" y="111.80" font-size="8.9" font-family="'DejaVu Sans', sans-serif" fill="#2a2a2a" text-anchor="end" font-weight="normal">1</text>
<line x1="379.80" y1="114.10" x2="379.80" y2="116.30" stroke="#2b2b2b" stroke-width="1.3"/>
<line x1="427.25" y1="114.10" x2="427.25" y2="116.30" stroke="#2b2b2b" stroke-width="1.3"/>
<line x1="474.70" y1="114.10" x2="474.70" y2="116.30" stroke="#2b2b2b" stroke-width="1.3"/>
<text x="444.00" y="37.70" font-size="10.1" font-family="'Liberation Sans', sans-serif" fill="#7a44b8" text-anchor="middle" font-weight="normal">learning</text>
<rect x="241.00" y="200.00" width="1.25" height="6.60" fill="#5c2ea4"/>
<rect x="244.00" y="200.00" width="1.25" height="6.60" fill="#5c2ea4"/>
<rect x="242.00" y="193.46" width="1.25" height="6.60" fill="#5c2ea4"/>
<rect x="245.00" y="193.46" width="1.25" height="6.60" fill="#5c2ea4"/>
<rect x="244.00" y="186.91" width="1.25" height="6.60" fill="#5c2ea4"/>
<rect x="246.00" y="186.91" width="1.25" height="6.60" fill="#5c2ea4"/>
<rect x="245.00" y="180.37" width="1.25" height="6.60" fill="#5c2ea4"/>
<rect x="247.00" y="180.37" width="1.25" height="6.60" fill="#5c2ea4"/>
<rect x="246.00" y="173.82" width="1.25" height="6.60" fill="#5c2ea4"/>
<rect x="249.00" y="173.82" width="1.25" height="6.60" fill="#5c2ea4"/>
<rect x="248.00" y="167.28" width="1.25" height="6.60" fill="#5c2ea4"/>
<rect x="250.00" y="167.28" width="1.25" height="6.60" fill="#5c2ea4"/>
<rect x="249.00" y="160.73" width="1.25" height="6.60" fill="#5c2ea4"/>
<rect x="251.00" y="160.73" width="1.25" height="6.60" fill="#5c2ea4"/>
<rect x="250.00" y="154.19" width="1.25" height="6.60" fill="#5c2ea4"/>
<rect x="252.00" y="154.19" width="1.25" height="6.60" fill="#5c2ea4"/>
<rect x="251.00" y="147.64" width="1.25" height="6.60" fill="#5c2ea4"/>
<rect x="253.00" y="147.64" width="1.25" height="6.60" fill="#5c2ea4"/>
<rect x="253.00" y="141.10" width="1.25" height="6.60" fill="#5c2ea4"/>
<rect x="254.00" y="141.10" width="1.25" height="6.60" fill="#5c2ea4"/>
<rect x="237.80" y="138.30" width="123.80" height="71.60" fill="none" stroke="#2b2b2b" stroke-width="1.3"/>
<line x1="235.60" y1="146.90" x2="237.80" y2="146.90" stroke="#2b2b2b" stroke-width="1.3"/>
<line x1="235.60" y1="203.90" x2="237.80" y2="203.90" stroke="#2b2b2b" stroke-width="1.3"/>
<text x="235.00" y="150.10" font-size="8.9" font-family="'DejaVu Sans', sans-serif" fill="#2a2a2a" text-anchor="end" font-weight="normal">10</text>
<text x="233.20" y="207.10" font-size="8.9" font-family="'DejaVu Sans', sans-serif" fill="#2a2a2a" text-anchor="end" font-weight="normal">1</text>
<line x1="237.80" y1="209.90" x2="237.80" y2="212.10" stroke="#2b2b2b" stroke-width="1.3"/>
<text x="237.80" y="220.50" font-size="9.2" font-family="'DejaVu Sans', sans-serif" fill="#2a2a2a" text-anchor="middle" font-weight="normal">0</text>
<line x1="285.25" y1="209.90" x2="285.25" y2="212.10" stroke="#2b2b2b" stroke-width="1.3"/>
<text x="285.25" y="220.50" font-size="9.2" font-family="'DejaVu Sans', sans-serif" fill="#2a2a2a" text-anchor="middle" font-weight="normal">50</text>
<line x1="332.70" y1="209.90" x2="332.70" y2="212.10" stroke="#2b2b2b" stroke-width="1.3"/>
<text x="332.70" y="220.50" font-size="9.2" font-family="'DejaVu Sans', sans-serif" fill="#2a2a2a" text-anchor="middle" font-weight="normal">100</text>
<text x="302.20" y="131.80" font-size="10.1" font-family="'Liberation Sans', sans-serif" fill="#7a44b8" text-anchor="middle" font-weight="normal">after - recall</text>
<text x="224.20" y="174.10" font-size="10.4" font-family="'DejaVu Sans', sans-serif" fill="#2a2a2a" text-anchor="middle" font-weight="normal" transform="rotate(-90 224.2 174.10000000000002)" stroke="#2a2a2a" stroke-width="0.22" textLength="39.6" lengthAdjust="spacingAndGlyphs">neurons</text>
<text x="297.20" y="230.80" font-size="9.8" font-family="'DejaVu Sans', sans-serif" fill="#2a2a2a" text-anchor="middle" font-weight="normal" stroke="#2a2a2a" stroke-width="0.22" textLength="45.4" lengthAdjust="spacingAndGlyphs">time [ms]</text>
<rect x="427.10" y="138.30" width="28.90" height="71.60" fill="#ead9c6"/>
<rect x="385.00" y="200.00" width="1.25" height="6.60" fill="#5c2ea4"/>
<rect x="389.00" y="200.00" width="1.25" height="6.60" fill="#5c2ea4"/>
<rect x="387.00" y="193.46" width="1.25" height="6.60" fill="#5c2ea4"/>
<rect x="391.00" y="193.46" width="1.25" height="6.60" fill="#5c2ea4"/>
<rect x="389.00" y="186.91" width="1.25" height="6.60" fill="#5c2ea4"/>
<rect x="393.00" y="186.91" width="1.25" height="6.60" fill="#5c2ea4"/>
<rect x="391.00" y="180.37" width="1.25" height="6.60" fill="#5c2ea4"/>
<rect x="394.00" y="180.37" width="1.25" height="6.60" fill="#5c2ea4"/>
<rect x="392.00" y="173.82" width="1.25" height="6.60" fill="#5c2ea4"/>
<rect x="396.00" y="173.82" width="1.25" height="6.60" fill="#5c2ea4"/>
<rect x="394.00" y="167.28" width="1.25" height="6.60" fill="#5c2ea4"/>
<rect x="397.00" y="167.28" width="1.25" height="6.60" fill="#5c2ea4"/>
<rect x="396.00" y="160.73" width="1.25" height="6.60" fill="#5c2ea4"/>
<rect x="399.00" y="160.73" width="1.25" height="6.60" fill="#5c2ea4"/>
<rect x="398.00" y="154.19" width="1.25" height="6.60" fill="#5c2ea4"/>
<rect x="400.00" y="154.19" width="1.25" height="6.60" fill="#5c2ea4"/>
<rect x="400.00" y="147.64" width="1.25" height="6.60" fill="#5c2ea4"/>
<rect x="402.00" y="147.64" width="1.25" height="6.60" fill="#5c2ea4"/>
<rect x="401.00" y="141.10" width="1.25" height="6.60" fill="#5c2ea4"/>
<rect x="404.00" y="141.10" width="1.25" height="6.60" fill="#5c2ea4"/>
<rect x="434.00" y="193.46" width="1.25" height="6.60" fill="#5c2ea4"/>
<rect x="436.00" y="186.91" width="1.25" height="6.60" fill="#5c2ea4"/>
<rect x="437.00" y="180.37" width="1.25" height="6.60" fill="#5c2ea4"/>
<rect x="439.00" y="173.82" width="1.25" height="6.60" fill="#5c2ea4"/>
<rect x="441.00" y="167.28" width="1.25" height="6.60" fill="#5c2ea4"/>
<rect x="443.00" y="160.73" width="1.25" height="6.60" fill="#5c2ea4"/>
<rect x="444.00" y="154.19" width="1.25" height="6.60" fill="#5c2ea4"/>
<rect x="446.00" y="147.64" width="1.25" height="6.60" fill="#5c2ea4"/>
<rect x="448.00" y="141.10" width="1.25" height="6.60" fill="#5c2ea4"/>
<rect x="430.00" y="200.00" width="1.25" height="6.60" fill="#5c2ea4"/>
<rect x="458.00" y="200.00" width="1.25" height="6.60" fill="#5c2ea4"/>
<rect x="501.00" y="200.00" width="1.25" height="6.60" fill="#5c2ea4"/>
<rect x="502.00" y="200.00" width="1.25" height="6.60" fill="#5c2ea4"/>
<rect x="379.80" y="138.30" width="124.20" height="71.60" fill="none" stroke="#2b2b2b" stroke-width="1.3"/>
<line x1="377.60" y1="146.90" x2="379.80" y2="146.90" stroke="#2b2b2b" stroke-width="1.3"/>
<line x1="377.60" y1="203.90" x2="379.80" y2="203.90" stroke="#2b2b2b" stroke-width="1.3"/>
<text x="377.00" y="150.10" font-size="8.9" font-family="'DejaVu Sans', sans-serif" fill="#2a2a2a" text-anchor="end" font-weight="normal">10</text>
<text x="375.20" y="207.10" font-size="8.9" font-family="'DejaVu Sans', sans-serif" fill="#2a2a2a" text-anchor="end" font-weight="normal">1</text>
<line x1="379.80" y1="209.90" x2="379.80" y2="212.10" stroke="#2b2b2b" stroke-width="1.3"/>
<text x="379.80" y="220.50" font-size="9.2" font-family="'DejaVu Sans', sans-serif" fill="#2a2a2a" text-anchor="middle" font-weight="normal">0</text>
<line x1="427.25" y1="209.90" x2="427.25" y2="212.10" stroke="#2b2b2b" stroke-width="1.3"/>
<text x="427.25" y="220.50" font-size="9.2" font-family="'DejaVu Sans', sans-serif" fill="#2a2a2a" text-anchor="middle" font-weight="normal">50</text>
<line x1="474.70" y1="209.90" x2="474.70" y2="212.10" stroke="#2b2b2b" stroke-width="1.3"/>
<text x="474.70" y="220.50" font-size="9.2" font-family="'DejaVu Sans', sans-serif" fill="#2a2a2a" text-anchor="middle" font-weight="normal">100</text>
<text x="442.50" y="130.70" font-size="10.1" font-family="'Liberation Sans', sans-serif" fill="#7a44b8" text-anchor="middle" font-weight="normal">after - spontaneous</text>
<text x="440.10" y="230.80" font-size="9.8" font-family="'DejaVu Sans', sans-serif" fill="#2a2a2a" text-anchor="middle" font-weight="normal" stroke="#2a2a2a" stroke-width="0.22" textLength="45.4" lengthAdjust="spacingAndGlyphs">time [ms]</text>
<defs><linearGradient id="cb" x1="0" x2="1" y1="0" y2="0"><stop offset="0" stop-color="#7048a8"/><stop offset="0.25" stop-color="#9068b8"/><stop offset="0.49" stop-color="#cfb0d8"/><stop offset="0.60" stop-color="#ead8ea"/><stop offset="0.68" stop-color="#f6f4f0"/><stop offset="0.76" stop-color="#b4e0e8"/><stop offset="0.89" stop-color="#62c0da"/><stop offset="1" stop-color="#30a6d0"/></linearGradient></defs>
<rect x="546.7" y="42.2" width="110.1" height="6.9" fill="url(#cb)" stroke="#1a1a1a" stroke-width="1"/>
<line x1="558.00" y1="42.20" x2="558.00" y2="40.40" stroke="#2b2b2b" stroke-width="0.9"/>
<line x1="579.10" y1="42.20" x2="579.10" y2="40.40" stroke="#2b2b2b" stroke-width="0.9"/>
<line x1="600.20" y1="42.20" x2="600.20" y2="40.40" stroke="#2b2b2b" stroke-width="0.9"/>
<line x1="621.20" y1="42.20" x2="621.20" y2="40.40" stroke="#2b2b2b" stroke-width="0.9"/>
<line x1="642.30" y1="42.20" x2="642.30" y2="40.40" stroke="#2b2b2b" stroke-width="0.9"/>
<text x="556.80" y="38.60" font-size="9.0" font-family="'DejaVu Sans', sans-serif" fill="#2a2a2a" text-anchor="middle" font-weight="normal">0.15</text>
<text x="597.30" y="38.60" font-size="9.0" font-family="'DejaVu Sans', sans-serif" fill="#2a2a2a" text-anchor="middle" font-weight="normal">0.05</text>
<text x="632.60" y="38.60" font-size="9.0" font-family="'DejaVu Sans', sans-serif" fill="#2a2a2a" text-anchor="middle" font-weight="normal">−0.05</text>
<rect x="544.40" y="54.60" width="114.00" height="132.60" fill="#faf9f4"/>
<rect x="544.40" y="54.60" width="11.90" height="17.07" fill="#ddeeea"/>
<rect x="544.40" y="71.17" width="11.90" height="17.07" fill="#ddeeea"/>
<rect x="544.40" y="87.75" width="11.90" height="17.07" fill="#ddeeea"/>
<rect x="544.40" y="104.32" width="11.90" height="17.07" fill="#eef4ed"/>
<rect x="555.80" y="71.17" width="11.90" height="17.07" fill="#f0f5ef"/>
<rect x="555.80" y="87.75" width="11.90" height="17.07" fill="#f0f5ef"/>
<rect x="555.80" y="104.32" width="11.90" height="17.07" fill="#eef3ec"/>
<rect x="544.40" y="120.90" width="11.90" height="17.07" fill="#f1dced"/>
<rect x="555.80" y="120.90" width="11.90" height="17.07" fill="#e0eeec"/>
<rect x="544.40" y="137.47" width="11.90" height="17.07" fill="#e8d6ea"/>
<rect x="555.80" y="137.47" width="11.90" height="17.07" fill="#ecf3ef"/>
<rect x="544.40" y="154.05" width="11.90" height="17.07" fill="#d6bde0"/>
<rect x="555.80" y="154.05" width="11.90" height="17.07" fill="#f3e7f2"/>
<rect x="544.40" y="170.62" width="11.90" height="17.07" fill="#c9a8d8"/>
<rect x="555.80" y="170.62" width="11.90" height="17.07" fill="#dcc8e5"/>
<rect x="567.20" y="154.05" width="11.90" height="17.07" fill="#f6f6f1"/>
<rect x="567.20" y="170.62" width="11.90" height="17.07" fill="#f3f2f1"/>
<rect x="567.20" y="120.90" width="11.90" height="17.07" fill="#f6f7f2"/>
<rect x="544.40" y="54.60" width="114.00" height="132.60" fill="none" stroke="#2b2b2b" stroke-width="1.3"/>
<line x1="542.20" y1="57.70" x2="544.40" y2="57.70" stroke="#2b2b2b" stroke-width="1.3"/>
<line x1="542.20" y1="185.60" x2="544.40" y2="185.60" stroke="#2b2b2b" stroke-width="1.3"/>
<text x="539.80" y="60.90" font-size="8.8" font-family="'DejaVu Sans', sans-serif" fill="#2a2a2a" text-anchor="end" font-weight="normal">8</text>
<text x="539.80" y="188.60" font-size="8.8" font-family="'DejaVu Sans', sans-serif" fill="#2a2a2a" text-anchor="end" font-weight="normal">1</text>
<line x1="550.10" y1="187.20" x2="550.10" y2="189.20" stroke="#2b2b2b" stroke-width="1.3"/>
<line x1="652.70" y1="187.20" x2="652.70" y2="189.20" stroke="#2b2b2b" stroke-width="1.3"/>
<text x="534.10" y="120.80" font-size="8.5" font-family="'DejaVu Sans', sans-serif" fill="#2a2a2a" text-anchor="middle" font-weight="normal" transform="rotate(-90 534.1 120.8)" stroke="#2a2a2a" stroke-width="0.22" textLength="29.8" lengthAdjust="spacingAndGlyphs">inputs</text>
<rect x="544.40" y="195.00" width="12.10" height="9.40" fill="#f2e8ee"/>
<rect x="555.80" y="195.00" width="12.10" height="9.40" fill="#b0dde5"/>
<rect x="567.20" y="195.00" width="12.10" height="9.40" fill="#5cb8d8"/>
<rect x="578.60" y="195.00" width="12.10" height="9.40" fill="#24a4d0"/>
<rect x="590.00" y="195.00" width="12.10" height="9.40" fill="#1ea0cc"/>
<rect x="601.40" y="195.00" width="12.10" height="9.40" fill="#1ea0cc"/>
<rect x="612.80" y="195.00" width="12.10" height="9.40" fill="#1ea0cc"/>
<rect x="624.20" y="195.00" width="12.10" height="9.40" fill="#22a2d0"/>
<rect x="635.60" y="195.00" width="12.10" height="9.40" fill="#50b4d8"/>
<rect x="647.00" y="195.00" width="11.40" height="9.40" fill="#fbf8f5"/>
<rect x="544.40" y="204.00" width="12.10" height="9.00" fill="#fbf8f4"/>
<rect x="555.80" y="204.00" width="12.10" height="9.00" fill="#9a78c0"/>
<rect x="567.20" y="204.00" width="12.10" height="9.00" fill="#7242a2"/>
<rect x="578.60" y="204.00" width="12.10" height="9.00" fill="#6c3c9c"/>
<rect x="590.00" y="204.00" width="12.10" height="9.00" fill="#6c3c9c"/>
<rect x="601.40" y="204.00" width="12.10" height="9.00" fill="#6c3c9c"/>
<rect x="612.80" y="204.00" width="12.10" height="9.00" fill="#6c3c9c"/>
<rect x="624.20" y="204.00" width="12.10" height="9.00" fill="#6c3c9c"/>
<rect x="635.60" y="204.00" width="12.10" height="9.00" fill="#6e3e9e"/>
<rect x="647.00" y="204.00" width="11.40" height="9.00" fill="#9a78c0"/>
<rect x="543.80" y="194.20" width="114.50" height="19.60" fill="none" stroke="#b0206e" stroke-width="1.6"/>
<line x1="551.40" y1="214.60" x2="551.40" y2="216.80" stroke="#2b2b2b" stroke-width="1.3"/>
<line x1="651.50" y1="214.60" x2="651.50" y2="216.80" stroke="#2b2b2b" stroke-width="1.3"/>
<text x="550.80" y="224.50" font-size="9" font-family="'DejaVu Sans', sans-serif" fill="#2a2a2a" text-anchor="middle" font-weight="normal">1</text>
<text x="650.60" y="223.60" font-size="9" font-family="'DejaVu Sans', sans-serif" fill="#2a2a2a" text-anchor="middle" font-weight="normal">10</text>
<text x="600.35" y="227.00" font-size="10" font-family="'DejaVu Sans', sans-serif" fill="#2a2a2a" text-anchor="middle" font-weight="normal" stroke="#2a2a2a" stroke-width="0.22" textLength="39.9" lengthAdjust="spacingAndGlyphs">neurons</text>
<text x="539.70" y="201.90" font-size="9.8" font-family="'Liberation Sans', sans-serif" fill="#7a44b8" text-anchor="end" font-weight="normal">n+1</text>
<text x="538.00" y="211.70" font-size="9.6" font-family="'Liberation Sans', sans-serif" fill="#7a44b8" text-anchor="end" font-weight="normal">n-1</text>
<line x1="728.3" y1="120.5" x2="728.3" y2="170.1" stroke="#fcf1f6" stroke-width="0.8"/>
<line x1="734.2" y1="105.5" x2="734.2" y2="181.7" stroke="#fcf1f6" stroke-width="0.8"/>
<line x1="742.5" y1="107.4" x2="742.5" y2="185.9" stroke="#fcf1f6" stroke-width="0.8"/>
<line x1="746.7" y1="112.4" x2="746.7" y2="169.1" stroke="#fcf1f6" stroke-width="0.8"/>
<line x1="748.8" y1="105.6" x2="748.8" y2="174.2" stroke="#fcf1f6" stroke-width="0.8"/>
<line x1="754.2" y1="116.6" x2="754.2" y2="185.9" stroke="#fcf1f6" stroke-width="0.8"/>
<line x1="759.2" y1="103.7" x2="759.2" y2="173.7" stroke="#fcf1f6" stroke-width="0.8"/>
<line x1="764.3" y1="105.3" x2="764.3" y2="186.4" stroke="#fcf1f6" stroke-width="0.8"/>
<line x1="767.6" y1="103.5" x2="767.6" y2="166.1" stroke="#fcf1f6" stroke-width="0.8"/>
<line x1="770.1" y1="101.5" x2="770.1" y2="173.7" stroke="#fcf1f6" stroke-width="0.8"/>
<line x1="775.1" y1="122.5" x2="775.1" y2="184.4" stroke="#fcf1f6" stroke-width="0.8"/>
<line x1="778.0" y1="118.3" x2="778.0" y2="186.9" stroke="#fcf1f6" stroke-width="0.8"/>
<line x1="782.2" y1="123.3" x2="782.2" y2="172.2" stroke="#fcf1f6" stroke-width="0.8"/>
<line x1="785.2" y1="104.6" x2="785.2" y2="185.6" stroke="#fcf1f6" stroke-width="0.8"/>
<line x1="787.7" y1="118.7" x2="787.7" y2="165.7" stroke="#fcf1f6" stroke-width="0.8"/>
<polygon points="703.3,58.0 704.6,53.4 706.0,56.5 707.1,61.3 707.3,62.1 707.5,62.9 707.6,63.6 707.8,64.4 708.0,65.2 708.1,66.0 708.3,66.8 708.4,67.6 708.6,68.4 708.8,69.1 708.9,69.9 709.1,70.7 709.3,71.5 709.4,72.4 709.6,73.2 709.8,74.1 709.9,74.9 710.1,75.8 710.3,76.6 710.4,77.5 710.6,78.3 710.8,79.2 710.9,80.0 711.1,80.9 711.3,81.7 711.4,82.5 711.6,83.4 711.7,84.2 711.9,85.0 712.0,85.8 712.2,86.6 712.4,87.4 712.5,88.3 712.7,89.1 712.8,89.9 713.0,90.7 713.2,91.5 713.3,92.3 713.5,93.2 713.8,94.0 714.0,94.8 714.3,95.6 714.5,96.4 714.8,97.2 715.0,98.0 715.3,98.7 715.7,99.4 716.0,100.1 716.4,100.8 716.4,100.7 715.7,100.3 714.0,100.2 712.5,99.8 712.2,100.0 712.2,99.6 712.5,98.9 712.9,98.2 713.4,97.3 713.9,96.5 714.6,95.5 715.3,94.5 716.0,93.6 717.3,92.6 718.7,91.7 720.5,90.9 722.4,91.1 724.3,91.5 725.8,92.6 726.9,93.6 727.9,94.7 728.4,95.7 729.0,96.7 729.5,97.8 729.9,98.6 730.2,99.6 730.6,100.5 730.9,101.4 731.3,102.3 731.6,103.1 731.9,104.0 732.2,104.9 732.4,105.8 732.6,106.7 732.9,107.5 733.1,108.4 733.3,109.2 733.6,110.1 733.8,110.9 734.0,111.7 734.3,112.5 734.5,113.4 734.7,114.2 735.0,115.0 735.2,115.8 735.4,116.6 735.6,117.4 735.9,118.2 736.1,118.9 736.4,119.7 736.6,120.4 736.9,121.2 737.1,121.9 737.4,122.7 737.6,123.2 737.9,123.8 739.0,124.4 737.7,124.9 738.2,124.3 738.4,124.7 739.0,125.3 740.5,126.0 741.0,126.4 740.8,128.8 741.6,131.1 742.2,130.4 742.5,132.9 742.9,131.9 744.5,131.9 742.9,132.5 745.2,133.6 744.7,134.4 746.0,133.2 744.6,133.6 745.9,132.8 748.5,135.6 747.5,135.0 748.9,135.7 750.5,136.8 752.0,137.5 751.9,137.5 750.1,137.4 750.9,140.0 753.4,138.6 751.1,137.1 751.9,137.2 755.9,140.0 756.3,140.3 757.1,141.3 757.5,142.6 758.9,142.4 758.3,140.5 758.5,143.0 759.9,142.8 760.4,143.1 758.0,142.3 760.9,143.1 764.5,143.2 764.2,142.7 765.9,145.5 766.0,145.4 766.5,147.2 766.2,147.7 767.7,145.0 769.3,145.4 767.2,144.9 768.6,148.2 769.7,148.7 769.8,146.7 769.5,146.1 767.0,146.9 770.4,146.7 773.0,146.8 774.3,146.3 775.1,146.3 773.4,147.9 774.5,146.6 773.9,148.5 774.1,147.6 775.8,145.8 775.4,146.6 776.4,146.3 780.2,145.7 781.3,145.7 781.9,145.0 781.1,146.4 785.5,146.8 787.7,145.8 789.0,146.7 789.9,149.6 791.3,150.5 793.3,152.8 793.8,154.0 782.4,162.1 781.0,160.9 780.6,159.3 780.1,159.8 780.2,158.9 780.8,158.3 780.4,160.2 783.5,159.7 781.1,159.2 780.0,159.0 779.5,161.3 781.8,158.9 781.5,159.6 779.1,160.6 779.5,161.5 778.2,162.2 775.4,161.8 775.1,162.3 772.0,160.6 770.8,160.9 770.8,161.1 771.6,160.7 773.0,159.4 769.2,160.5 767.5,160.9 765.7,162.8 765.3,160.6 765.1,159.8 761.7,158.1 761.7,158.7 761.3,159.7 758.8,159.2 758.7,158.5 756.1,156.7 756.9,155.0 755.5,155.0 756.7,156.1 758.0,156.9 754.1,154.6 753.3,156.0 753.2,155.4 752.6,153.0 749.5,153.3 750.0,153.8 748.6,152.9 748.5,150.6 747.0,152.0 749.4,150.4 748.6,150.3 745.1,150.0 745.2,152.7 745.2,152.3 742.7,147.9 740.7,147.0 741.5,149.2 740.5,147.7 740.7,146.5 739.1,146.1 739.1,146.3 738.6,145.0 735.6,143.4 735.3,143.7 735.0,143.0 735.3,142.2 733.0,138.7 733.3,137.9 732.4,137.8 731.3,136.0 731.0,136.0 730.1,133.4 730.2,132.7 729.4,131.0 729.7,131.6 730.3,131.5 729.2,131.3 729.4,129.5 728.7,129.0 728.0,127.8 727.6,126.8 727.3,125.7 727.2,125.0 726.9,124.1 726.7,123.3 726.5,122.5 726.3,121.6 726.1,120.8 726.0,119.9 725.8,119.0 725.6,118.2 725.4,117.3 725.3,116.5 725.1,115.6 724.9,114.8 724.8,113.9 724.6,113.1 724.4,112.2 724.3,111.4 724.1,110.5 723.9,109.7 723.8,108.8 723.6,108.0 723.4,107.2 723.3,106.4 723.1,105.6 722.9,104.8 722.7,104.0 722.5,103.3 722.3,102.5 722.1,101.8 721.8,101.1 721.5,100.6 721.3,100.1 721.1,99.5 720.9,99.5 720.9,99.4 721.3,99.3 721.4,99.4 721.5,99.3 722.0,99.4 722.1,99.5 722.0,99.4 721.7,100.0 721.4,100.4 721.1,100.9 720.6,101.5 720.2,102.3 719.7,103.4 719.1,104.4 718.2,105.8 716.4,107.3 713.4,108.2 711.2,106.6 710.0,104.6 709.5,102.9 709.4,102.1 709.2,101.2 709.1,100.3 709.0,99.4 708.9,98.5 708.9,97.6 708.8,96.7 708.7,95.9 708.6,95.0 708.6,94.2 708.4,93.3 708.2,92.5 708.1,91.7 707.9,90.8 707.8,90.0 707.6,89.2 707.5,88.4 707.3,87.6 707.1,86.8 707.0,85.9 706.8,85.1 706.7,84.3 706.5,83.5 706.3,82.7 706.2,81.8 706.0,81.0 705.8,80.1 705.7,79.3 705.5,78.4 705.3,77.6 705.2,76.7 705.0,75.9 704.8,75.0 704.7,74.2 704.5,73.3 704.3,72.5 704.2,71.7 704.0,70.9 703.9,70.2 703.7,69.4 703.5,68.6 703.4,67.8 703.2,67.0 703.1,66.2 702.9,65.4 702.7,64.7 702.6,63.9 702.4,63.1 702.3,62.3" fill="#f6d5e8" stroke="#f6d5e8" stroke-width="0.5" stroke-linejoin="round"/>
<polygon points="705.9,61.5 706.1,62.3 706.2,63.1 706.4,63.9 706.6,64.7 706.7,65.5 706.9,66.3 707.1,67.0 707.2,67.8 707.4,68.6 707.5,69.4 707.7,70.2 707.9,71.0 708.0,71.8 708.2,72.6 708.4,73.5 708.5,74.3 708.7,75.2 708.9,76.0 709.0,76.9 709.2,77.7 709.4,78.6 709.5,79.4 709.7,80.3 709.9,81.1 710.0,82.0 710.2,82.8 710.3,83.6 710.5,84.4 710.7,85.2 710.8,86.0 711.0,86.9 711.1,87.7 711.3,88.5 711.5,89.3 711.6,90.1 711.8,90.9 711.9,91.8 712.1,92.6 712.3,93.4 712.5,94.2 712.7,95.1 712.9,95.9 713.1,96.7 713.3,97.5 713.5,98.3 713.7,99.1 714.1,99.8 714.4,100.6 714.7,101.3 714.8,101.7 714.6,101.8 713.8,102.2 713.5,101.7 713.7,101.4 713.9,100.8 714.3,100.0 714.7,99.2 715.2,98.3 715.7,97.6 716.3,96.7 716.9,95.8 717.5,95.0 718.5,94.3 719.5,93.6 720.7,93.0 722.1,93.2 723.5,93.4 724.6,94.3 725.4,95.1 726.2,95.9 726.7,96.8 727.1,97.7 727.6,98.6 728.0,99.4 728.3,100.3 728.6,101.2 728.9,102.0 729.2,102.9 729.5,103.7 729.8,104.6 730.0,105.5 730.2,106.4 730.4,107.2 730.6,108.1 730.9,108.9 731.1,109.8 731.3,110.6 731.5,111.5 731.7,112.3 731.9,113.1 732.1,113.9 732.4,114.8 732.6,115.6 732.8,116.4 733.0,117.2 733.2,118.0 733.4,118.9 733.7,119.6 733.9,120.4 734.2,121.1 734.4,121.9 734.6,122.7 734.9,123.5 735.1,124.1 735.4,124.8 735.8,125.8 736.1,125.8 736.0,126.1 736.4,126.3 736.6,127.0 737.9,127.2 737.7,128.4 738.3,129.9 739.1,132.3 739.6,131.7 739.8,134.2 740.2,133.6 741.5,133.7 740.8,135.2 742.0,136.5 742.4,136.7 743.8,135.3 743.5,135.7 744.3,135.9 746.0,138.4 745.6,138.2 747.5,137.7 748.2,139.9 749.1,139.9 749.4,140.3 748.7,141.7 749.9,142.2 751.0,141.9 750.5,140.6 751.3,140.5 753.9,142.6 754.8,142.3 755.4,143.7 755.8,145.1 756.8,144.9 756.8,143.8 757.6,145.2 758.5,145.6 759.0,145.7 758.0,146.6 760.0,146.1 762.0,146.4 762.1,146.2 763.3,148.5 763.7,149.5 765.2,149.2 765.1,150.4 765.7,149.5 766.9,149.3 766.6,149.3 768.0,150.6 768.6,152.5 769.0,151.6 769.4,150.1 768.7,150.4 770.6,149.8 772.3,151.5 773.4,149.9 774.3,150.1 773.8,151.2 774.8,150.9 774.6,150.8 775.4,151.0 776.6,149.4 776.8,149.5 777.6,149.2 780.0,149.6 781.1,148.2 781.7,148.3 781.7,150.0 784.5,149.4 785.7,149.5 786.5,150.1 788.1,151.5 789.2,152.2 789.9,155.0 790.9,156.0 785.7,159.7 784.4,158.6 783.2,157.1 783.0,156.8 782.8,155.3 781.9,156.3 782.0,155.9 782.8,156.3 781.3,155.5 780.4,155.3 779.7,156.8 780.7,156.2 779.8,156.0 778.2,156.6 777.7,156.9 776.9,157.9 775.2,158.7 774.6,157.4 772.7,157.3 771.9,156.4 771.2,158.4 771.3,157.2 771.6,156.4 769.3,156.7 768.0,157.5 766.7,159.3 766.1,157.6 765.6,156.3 763.4,155.3 763.3,155.0 762.4,157.0 760.9,155.9 760.2,155.7 758.6,153.8 758.5,152.3 757.5,152.3 757.8,152.9 758.0,154.1 755.4,152.2 755.0,152.7 754.8,151.9 753.8,150.5 751.9,150.6 751.7,151.2 751.2,149.4 750.4,148.1 749.2,149.0 750.1,146.8 749.3,146.9 746.9,147.5 746.9,148.9 746.6,148.1 744.6,145.8 743.6,144.5 743.9,145.9 743.3,143.6 742.0,144.3 740.6,144.5 740.9,142.6 740.3,141.7 738.4,140.6 737.7,141.3 737.0,141.2 737.1,139.8 735.8,137.1 735.1,136.7 734.6,136.7 734.3,134.4 734.2,134.5 733.7,131.8 733.0,131.1 732.5,129.7 731.9,130.1 732.1,130.0 732.1,129.0 731.2,128.5 730.9,128.0 730.4,126.8 730.1,125.9 729.9,125.0 729.6,124.2 729.4,123.4 729.2,122.6 729.0,121.8 728.8,121.0 728.6,120.1 728.4,119.3 728.2,118.4 728.0,117.6 727.8,116.7 727.6,115.9 727.5,115.1 727.3,114.2 727.1,113.4 726.9,112.5 726.7,111.7 726.5,110.8 726.3,110.0 726.2,109.1 726.0,108.3 725.8,107.4 725.6,106.6 725.4,105.8 725.2,105.0 725.0,104.2 724.7,103.4 724.5,102.6 724.3,101.8 724.0,101.0 723.7,100.2 723.4,99.6 723.1,99.0 722.8,98.3 722.4,98.0 722.1,97.7 722.1,97.4 721.7,97.3 721.3,97.2 721.2,97.5 720.9,97.8 720.5,98.0 720.1,98.6 719.7,99.2 719.3,99.8 718.8,100.5 718.4,101.3 717.9,102.3 717.4,103.2 716.7,104.4 715.4,105.4 713.6,106.2 712.3,105.0 711.6,103.6 711.2,102.4 711.0,101.6 710.8,100.7 710.7,99.9 710.5,99.0 710.4,98.2 710.3,97.3 710.2,96.4 710.0,95.6 709.9,94.8 709.8,93.9 709.6,93.1 709.5,92.2 709.3,91.4 709.2,90.6 709.0,89.8 708.8,89.0 708.7,88.2 708.5,87.3 708.4,86.5 708.2,85.7 708.0,84.9 707.9,84.1 707.7,83.3 707.6,82.4 707.4,81.6 707.2,80.7 707.1,79.9 706.9,79.0 706.7,78.2 706.6,77.3 706.4,76.5 706.2,75.6 706.1,74.8 705.9,73.9 705.7,73.1 705.6,72.2 705.4,71.5 705.3,70.7 705.1,69.9 704.9,69.1 704.8,68.3 704.6,67.5 704.4,66.8 704.3,66.0 704.1,65.2 704.0,64.4 703.8,63.6 703.6,62.8 703.5,62.1" fill="#f0bade" stroke="#f0bade" stroke-width="0.5" stroke-linejoin="round"/>
<polyline points="704.7,61.8 704.9,62.6 705.0,63.4 705.2,64.2 705.3,64.9 705.5,65.7 705.7,66.5 705.8,67.3 706.0,68.1 706.2,68.9 706.3,69.6 706.5,70.4 706.6,71.2 706.8,72.0 707.0,72.8 707.1,73.7 707.3,74.5 707.5,75.4 707.6,76.2 707.8,77.1 708.0,78.0 708.1,78.8 708.3,79.7 708.5,80.5 708.6,81.3 708.8,82.2 709.0,83.0 709.1,83.8 709.3,84.7 709.4,85.5 709.6,86.3 709.8,87.1 709.9,87.9 710.1,88.7 710.2,89.5 710.4,90.4 710.5,91.2 710.7,92.0 710.9,92.8 711.0,93.7 711.2,94.5 711.4,95.3 711.5,96.2 711.7,97.0 711.9,97.8 712.0,98.7 712.2,99.5 712.5,100.3 712.7,101.1 713.0,101.8 713.2,102.6 713.5,103.4 713.7,104.2 714.5,103.6 715.2,102.9 715.7,102.0 716.1,101.2 716.5,100.3 717.0,99.4 717.5,98.7 718.0,98.0 718.5,97.2 719.0,96.5 719.7,96.0 720.3,95.6 721.0,95.1 721.9,95.2 722.8,95.4 723.4,96.0 723.9,96.5 724.5,97.1 724.9,97.9 725.2,98.7 725.6,99.4 726.0,100.2 726.3,101.0 726.5,101.9 726.8,102.7 727.1,103.5 727.3,104.4 727.6,105.2 727.8,106.0 728.0,106.9 728.2,107.8 728.4,108.6 728.6,109.5 728.8,110.3 729.0,111.2 729.2,112.0 729.4,112.8 729.6,113.7 729.8,114.5 730.0,115.3 730.2,116.2 730.4,117.0 730.6,117.8 730.8,118.7 731.0,119.5 731.2,120.3 731.5,121.1 731.7,121.9 731.9,122.6 732.1,123.4 732.4,124.2 732.6,125.0 732.9,125.8 733.2,127.0 733.5,127.2 733.9,127.7 734.2,128.2 734.5,128.4 735.0,128.5 735.5,129.6 736.0,130.9 736.5,133.5 737.0,133.0 737.5,135.3 738.0,134.9 738.5,135.5 739.1,137.3 739.8,138.6 740.4,138.7 741.0,138.1 741.8,139.0 742.5,139.5 743.2,141.5 744.0,140.9 745.1,141.1 746.2,142.7 746.7,141.9 747.2,142.8 747.7,144.7 748.2,145.9 749.0,144.6 749.8,143.9 750.7,143.7 751.5,145.9 752.3,145.6 753.0,146.8 753.8,148.1 754.5,147.5 755.3,147.1 756.0,149.0 756.6,149.3 757.3,148.8 758.0,149.9 758.8,149.6 759.6,149.5 760.5,149.0 761.3,150.8 762.1,152.4 762.9,152.8 763.7,153.9 764.5,152.3 765.3,152.1 766.1,152.8 766.9,154.5 767.7,155.7 768.5,154.6 769.3,153.6 770.2,153.5 771.0,153.5 771.8,154.7 772.6,153.3 773.4,154.1 774.2,154.3 775.0,154.6 775.8,154.6 776.6,154.1 777.4,153.0 778.2,152.6 779.0,152.5 779.8,153.5 780.7,152.3 781.5,152.0 782.3,153.3 783.1,153.1 783.9,152.7 784.7,152.6 785.5,154.2 786.3,154.6 787.2,156.8 788.2,158.0" fill="none" stroke="#c0168a" stroke-width="2.4" stroke-linejoin="round" stroke-linecap="round"/>
<polyline points="738.5,135.5 739.1,137.3 739.8,138.6 740.4,138.7 741.0,138.1 741.8,139.0 742.5,139.5 743.2,141.5 744.0,140.9 745.1,141.1 746.2,142.7 746.7,141.9 747.2,142.8 747.7,144.7 748.2,145.9 749.0,144.6 749.8,143.9 750.7,143.7 751.5,145.9 752.3,145.6 753.0,146.8 753.8,148.1 754.5,147.5 755.3,147.1 756.0,149.0 756.6,149.3 757.3,148.8 758.0,149.9 758.8,149.6 759.6,149.5 760.5,149.0 761.3,150.8 762.1,152.4 762.9,152.8 763.7,153.9 764.5,152.3 765.3,152.1 766.1,152.8 766.9,154.5 767.7,155.7 768.5,154.6 769.3,153.6 770.2,153.5 771.0,153.5 771.8,154.7 772.6,153.3 773.4,154.1 774.2,154.3 775.0,154.6 775.8,154.6 776.6,154.1 777.4,153.0 778.2,152.6 779.0,152.5 779.8,153.5 780.7,152.3 781.5,152.0 782.3,153.3 783.1,153.1 783.9,152.7 784.7,152.6 785.5,154.2 786.3,154.6 787.2,156.8 788.2,158.0" fill="none" stroke="#c0168a" stroke-width="2.9" stroke-linejoin="round" stroke-linecap="round"/>
<rect x="700.60" y="50.30" width="92.20" height="143.80" fill="none" stroke="#2b2b2b" stroke-width="1.3"/>
<line x1="698.40" y1="83.50" x2="700.60" y2="83.50" stroke="#2b2b2b" stroke-width="1.3"/>
<line x1="698.40" y1="126.30" x2="700.60" y2="126.30" stroke="#2b2b2b" stroke-width="1.3"/>
<line x1="698.40" y1="168.80" x2="700.60" y2="168.80" stroke="#2b2b2b" stroke-width="1.3"/>
<text x="697.00" y="90.60" font-size="9.5" font-family="'DejaVu Sans', sans-serif" fill="#2a2a2a" text-anchor="end" font-weight="normal">30</text>
<text x="697.00" y="129.90" font-size="9.5" font-family="'DejaVu Sans', sans-serif" fill="#2a2a2a" text-anchor="end" font-weight="normal">20</text>
<text x="697.00" y="168.70" font-size="9.5" font-family="'DejaVu Sans', sans-serif" fill="#2a2a2a" text-anchor="end" font-weight="normal">10</text>
<line x1="704.90" y1="194.10" x2="704.90" y2="196.30" stroke="#2b2b2b" stroke-width="1.3"/>
<line x1="746.70" y1="194.10" x2="746.70" y2="196.30" stroke="#2b2b2b" stroke-width="1.3"/>
<line x1="788.50" y1="194.10" x2="788.50" y2="196.30" stroke="#2b2b2b" stroke-width="1.3"/>
<text x="705.90" y="204.50" font-size="9.2" font-family="'DejaVu Sans', sans-serif" fill="#2a2a2a" text-anchor="middle" font-weight="normal">0</text>
<text x="747.10" y="204.50" font-size="9.2" font-family="'DejaVu Sans', sans-serif" fill="#2a2a2a" text-anchor="middle" font-weight="normal">1000</text>
<text x="788.60" y="204.50" font-size="9.2" font-family="'DejaVu Sans', sans-serif" fill="#2a2a2a" text-anchor="middle" font-weight="normal">2000</text>
<text x="746.80" y="214.60" font-size="8.6" font-family="'DejaVu Sans', sans-serif" fill="#2a2a2a" text-anchor="middle" font-weight="normal" stroke="#2a2a2a" stroke-width="0.22" textLength="33.4" lengthAdjust="spacingAndGlyphs">epochs</text>
<text x="678.60" y="115.40" font-size="8.2" font-family="'DejaVu Sans', sans-serif" fill="#2a2a2a" text-anchor="middle" font-weight="normal" transform="rotate(-90 678.6 115.4)" stroke="#2a2a2a" stroke-width="0.22" textLength="30.4" lengthAdjust="spacingAndGlyphs">Δt [ms]</text>
</svg>
</body></html>
